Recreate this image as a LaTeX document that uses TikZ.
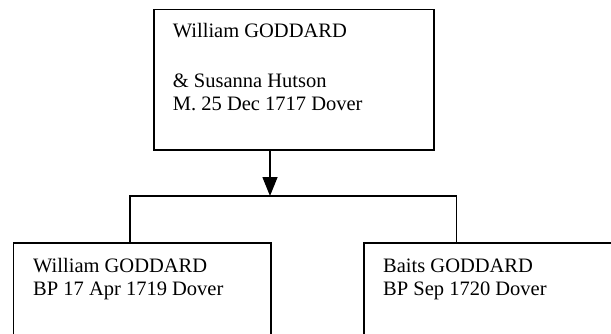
\documentclass[tikz,border=0pt]{standalone}
\usepackage{fontspec}
\setmainfont{Liberation Serif}
\usetikzlibrary{arrows.meta}
\begin{document}
\begin{tikzpicture}[x=1pt,y=1pt,
  box/.style={draw=black, line width=1.5pt, fill=white, inner sep=0pt, anchor=north west},
  txt/.style={anchor=base west, inner sep=0pt, font=\fontsize{20.5}{23.5}\selectfont},
  conn/.style={draw=black, line width=1.5pt}]
\clip (0,0) rectangle (611,333);
\fill[white] (0,0) rectangle (611,333);
% boxes
\node[box, minimum width=280pt, minimum height=140.3pt] (p) at (153,324.3) {};
\node[box, minimum width=257.3pt, minimum height=110pt] (c1) at (12.7,91) {};
\node[box, minimum width=260pt, minimum height=110pt] (c2) at (363,91) {};
% texts
\node[txt] (p1) at (172.7,296) {William GODDARD};
\node[txt] (p2) at (172.7,246) {\& Susanna Hutson};
\node[txt] (p3) at (172.7,223) {M. 25 Dec 1717 Dover};
\node[txt] (a1) at (33,61) {William GODDARD};
\node[txt] (a2) at (33,38) {BP 17 Apr 1719 Dover};
\node[txt] (b1) at (383,61) {Baits GODDARD};
\node[txt] (b2) at (383,38) {BP Sep 1720 Dover};
% connectors
\coordinate (bl) at (130,137);
\coordinate (br) at (456.7,137);
\coordinate (tip) at (270,137);
\draw[conn, -{Triangle[length=19pt,width=15pt]}] (p.south -| tip) -- (tip);
\draw[conn] (c1.north -| bl) -- (bl) -- (br) -- (c2.north -| br);
\end{tikzpicture}
\end{document}
